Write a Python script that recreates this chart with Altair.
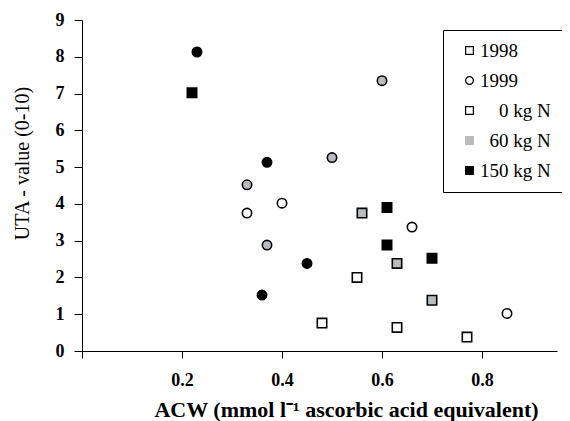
import altair as alt
import pandas as pd

# ---- data ----
x_1998_0 = [0.48, 0.55, 0.63, 0.77]
y_1998_0 = [0.76, 2.00, 0.64, 0.38]
x_1998_60 = [0.56, 0.63, 0.70]
y_1998_60 = [3.75, 2.38, 1.38]
x_1998_150 = [0.22, 0.61, 0.61, 0.70]
y_1998_150 = [7.02, 3.90, 2.88, 2.52]
x_1999_0 = [0.33, 0.40, 0.66, 0.85]
y_1999_0 = [3.75, 4.02, 3.37, 1.02]
x_1999_60 = [0.60, 0.50, 0.33, 0.37]
y_1999_60 = [7.35, 5.26, 4.52, 2.88]
x_1999_150 = [0.23, 0.37, 0.45, 0.36]
y_1999_150 = [8.13, 5.13, 2.38, 1.52]

years = ["1998", "1999"]
n_levels = ["0 kg N", "60 kg N", "150 kg N"]
# zero-width space keeps the leading non-breaking spaces from being trimmed
ZW = "\u200b"
NB = "\u00a0"
legend_keys = ["1998", "1999", ZW + NB * 4 + "0 kg N", ZW + NB * 2 + "60 kg N", "150 kg N"]
x_ticks = [0, 0.2, 0.4, 0.6, 0.8]
y_ticks = [0, 1, 2, 3, 4, 5, 6, 7, 8, 9]

series = [
    ("1998", "0 kg N", x_1998_0, y_1998_0),
    ("1998", "60 kg N", x_1998_60, y_1998_60),
    ("1998", "150 kg N", x_1998_150, y_1998_150),
    ("1999", "0 kg N", x_1999_0, y_1999_0),
    ("1999", "60 kg N", x_1999_60, y_1999_60),
    ("1999", "150 kg N", x_1999_150, y_1999_150),
]
rows = []
for yr, n, xs, ys in series:
    for xv, yv in zip(xs, ys):
        rows.append({"year": yr, "n": n, "acw": xv, "uta": yv})
df = pd.DataFrame(rows)

FONT = "Liberation Serif"
GRAY = "#b9bcbf"

x_enc = alt.X(
    "acw:Q",
    scale=alt.Scale(domain=[0, 0.95], nice=False, zero=False),
    axis=alt.Axis(
        title="ACW (mmol l\u207b\u00b9 ascorbic acid equivalent)",
        values=x_ticks,
        labelExpr="datum.value == 0 ? '' : format(datum.value, '.1f')",
        grid=False,
        domainColor="black",
        tickColor="black",
        tickSize=7,
        labelFont=FONT,
        labelFontSize=18,
        labelFontWeight="bold",
        labelColor="black",
        labelPadding=13,
        labelOverlap=False,
        titleFont=FONT,
        titleFontSize=22,
        titleFontWeight="bold",
        titleColor="black",
        titlePadding=10,
        titleX=264,
    ),
)
y_enc = alt.Y(
    "uta:Q",
    scale=alt.Scale(domain=[0, 9], nice=False),
    axis=alt.Axis(
        title="UTA - value (0-10)",
        values=y_ticks,
        grid=False,
        domainColor="black",
        tickColor="black",
        tickSize=8,
        labelFont=FONT,
        labelFontSize=18,
        labelFontWeight="bold",
        labelColor="black",
        labelPadding=10,
        labelOverlap=False,
        titleFont=FONT,
        titleFontSize=20,
        titleFontWeight="normal",
        titleColor="black",
        titlePadding=23,
        titleY=143,
    ),
)

points = alt.Chart(df).mark_point(filled=True, size=88, strokeWidth=1.6, stroke="black", opacity=1).encode(
    x=x_enc,
    y=y_enc,
    shape=alt.Shape("year:N", scale=alt.Scale(domain=years, range=["square", "circle"]), legend=None),
    fill=alt.Fill("n:N", scale=alt.Scale(domain=n_levels, range=["white", GRAY, "black"]), legend=None),
)

leg_df = pd.DataFrame({"key": legend_keys, "acw": [0.5] * 5, "uta": [5] * 5})
leg_common = dict(
    title=None,
    orient="none",
    legendX=361,
    legendY=10,
    strokeColor="black",
    padding=11,
    rowPadding=10,
    symbolSize=60,
    symbolStrokeWidth=1.2,
    labelFont=FONT,
    labelFontSize=19,
    labelColor="black",
    labelOffset=1,
    symbolOffset=6,
    labelLimit=200,
)
legend_layer = alt.Chart(leg_df).transform_filter("datum.key == 'none'").mark_point(filled=True, opacity=1).encode(
    x=x_enc,
    y=y_enc,
    shape=alt.Shape("key:N", sort=legend_keys,
                    scale=alt.Scale(domain=legend_keys, range=["square", "circle", "square", "square", "square"]),
                    legend=alt.Legend(**leg_common)),
    fill=alt.Fill("key:N", sort=legend_keys,
                  scale=alt.Scale(domain=legend_keys, range=["white", "white", "white", GRAY, "black"]),
                  legend=alt.Legend(**leg_common)),
    stroke=alt.Stroke("key:N", sort=legend_keys,
                      scale=alt.Scale(domain=legend_keys, range=["black", "black", "black", GRAY, "black"]),
                      legend=alt.Legend(**leg_common)),
)

chart = (
    alt.layer(points, legend_layer)
    .resolve_scale(shape="independent", fill="independent", stroke="independent")
    .properties(
        width=475,
        height=331,
        padding={"left": 74, "top": 12, "right": 5, "bottom": 70},
        autosize=alt.AutoSizeParams(type="none"),
        background="white",
    )
    .configure_view(stroke=None)
)

chart.save("out.html", embed_options={"renderer": "svg", "actions": False})
